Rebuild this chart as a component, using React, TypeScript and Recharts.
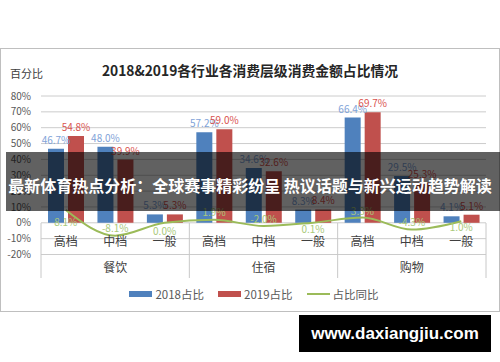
import React from "react";
import {
  ComposedChart,
  Bar,
  Line,
  XAxis,
  YAxis,
  CartesianGrid,
  LabelList,
} from "recharts";

const levels = ["高档", "中档", "一般", "高档", "中档", "一般", "高档", "中档", "一般"];
const groups = ["餐饮", "住宿", "购物"];
const share2018 = [46.7, 48.0, 5.3, 57.2, 34.6, 8.3, 66.4, 29.5, 4.1];
const share2019 = [54.8, 39.9, 5.3, 59.0, 32.6, 8.4, 69.7, 25.3, 5.1];
const yoy = [8.1, -8.1, 0.0, 1.9, -2.0, 0.1, 3.3, -4.3, 1.0];
const yTicks = [-20, -10, 0, 10, 20, 30, 40, 50, 60, 70, 80];
const seriesNames = ["2018占比", "2019占比", "占比同比"];

const chartData = levels.map((level, i) => ({
  level,
  group: groups[Math.floor(i / 3)],
  y2018: share2018[i],
  y2019: share2019[i],
  yoy: yoy[i],
}));

const BLUE = "#4f81bd";
const RED = "#c0504d";
const GREEN = "#9bbb59";
const AXIS_TEXT = "#595959";
const FONT = "'Noto Sans CJK SC', 'Noto Sans', sans-serif";

const PLOT_LEFT = 41;
const PLOT_RIGHT = 486;
const BAND = (PLOT_RIGHT - PLOT_LEFT) / levels.length;

// excel put the yoy labels above or below the point, one by one
const yoyLabelDy = [13, -7, 9, -7, -6, 7, -6, -7, 6];

const pct = (v: number) => `${v.toFixed(1)}%`;

function CategoryTick(props: any) {
  const { x, y, index } = props;
  const half = BAND / 2;
  return (
    <g>
      <text
        x={x}
        y={y - 12.5}
        dy="0.35em"
        textAnchor="middle"
        fill="#404040"
        fontSize={12}
      >
        {levels[index]}
      </text>
      {index % 3 === 1 && (
        <text
          x={x}
          y={y + 13.5}
          dy="0.35em"
          textAnchor="middle"
          fill="#404040"
          fontSize={12}
        >
          {groups[Math.floor(index / 3)]}
        </text>
      )}
      {index % 3 === 0 && (
        <line
          x1={x - half}
          x2={x - half}
          y1={y - 31.5}
          y2={y + 23.5}
          stroke="#c8c8c8"
        />
      )}
      {index === levels.length - 1 && (
        <line
          x1={x + half}
          x2={x + half}
          y1={y - 31.5}
          y2={y + 23.5}
          stroke="#c8c8c8"
        />
      )}
    </g>
  );
}

function YoyLabel(props: any) {
  const { x, y, value, index } = props;
  return (
    <text
      x={x}
      y={y + yoyLabelDy[index]}
      dy="0.35em"
      textAnchor="middle"
      fill="#a9c97a"
      fontSize={10}
    >
      {pct(value)}
    </text>
  );
}

function LegendRow() {
  const swatches = [
    <div style={{ width: 23, height: 6, background: BLUE }} />,
    <div style={{ width: 23, height: 6, background: RED }} />,
    <div style={{ width: 23, height: 2, background: GREEN }} />,
  ];
  return (
    <div
      style={{
        position: "absolute",
        left: 4,
        top: 286,
        width: 500,
        display: "flex",
        justifyContent: "center",
        gap: 14,
        fontSize: 11.5,
        color: AXIS_TEXT,
        lineHeight: "16px",
      }}
    >
      {seriesNames.map((name, i) => (
        <div key={name} style={{ display: "flex", alignItems: "center", gap: 3 }}>
          {swatches[i]}
          <span>{name}</span>
        </div>
      ))}
    </div>
  );
}

export default function App() {
  return (
    <div
      style={{
        position: "absolute",
        left: 0,
        top: 0,
        width: 500,
        height: 362,
        background: "#fff",
        fontFamily: FONT,
        overflow: "hidden",
      }}
    >
      <div
        style={{
          position: "absolute",
          left: 0,
          top: 61,
          width: 500,
          textAlign: "center",
          fontSize: 13.8,
          fontWeight: 700,
          lineHeight: "18px",
          color: "#262626",
        }}
      >
        2018&2019各行业各消费层级消费金额占比情况
      </div>
      <div
        style={{
          position: "absolute",
          left: 0,
          top: 48,
          width: 500,
          height: 264,
          border: "1px solid #bfbfbf",
          boxSizing: "border-box",
        }}
      />
      <div
        style={{
          position: "absolute",
          left: 10,
          top: 65,
          fontSize: 11,
          lineHeight: "16px",
          color: "#404040",
        }}
      >
        百分比
      </div>

      <div style={{ position: "absolute", left: 0, top: 0 }}>
        <ComposedChart
          width={500}
          height={362}
          data={chartData}
          margin={{ top: 96, right: 500 - PLOT_RIGHT, left: 0, bottom: 77.5 }}
          barSize={16}
          barGap={4}
        >
          <CartesianGrid vertical={false} stroke="#cccccc" />
          <XAxis
            dataKey="level"
            height={30}
            interval={0}
            axisLine={false}
            tickLine={false}
            tickSize={0}
            tickMargin={0}
            tick={<CategoryTick />}
          />
          <YAxis
            width={PLOT_LEFT}
            domain={[-20, 80]}
            ticks={yTicks}
            interval={0}
            tickFormatter={(v: number) => `${v}%`}
            axisLine={false}
            tickLine={false}
            tickSize={0}
            tickMargin={10}
            tick={{ fill: AXIS_TEXT, fontSize: 10 }}
          />
          <Bar dataKey="y2018" name={seriesNames[0]} fill={BLUE} isAnimationActive={false}>
            <LabelList
              dataKey="y2018"
              position="top"
              formatter={(v: any) => pct(Number(v))}
              fill="#7fa3d8"
              fontSize={10}
            />
          </Bar>
          <Bar dataKey="y2019" name={seriesNames[1]} fill={RED} isAnimationActive={false}>
            <LabelList
              dataKey="y2019"
              position="top"
              formatter={(v: any) => pct(Number(v))}
              fill="#d9534f"
              fontSize={10}
            />
          </Bar>
          <Line
            dataKey="yoy"
            name={seriesNames[2]}
            type="monotone"
            stroke={GREEN}
            strokeWidth={2}
            dot={false}
            activeDot={false}
            isAnimationActive={false}
          >
            <LabelList dataKey="yoy" content={<YoyLabel />} />
          </Line>
        </ComposedChart>
      </div>

      <LegendRow />

      <div
        style={{
          position: "absolute",
          left: 6,
          top: 152,
          width: 494,
          height: 59,
          background: "rgba(0,0,0,0.62)",
        }}
      />
      <div
        style={{
          position: "absolute",
          left: 6,
          top: 175,
          width: 488,
          textAlign: "center",
          fontSize: 16,
          fontWeight: 700,
          lineHeight: "20px",
          color: "#fff",
          whiteSpace: "nowrap",
        }}
      >
        最新体育热点分析：全球赛事精彩纷呈 热议话题与新兴运动趋势解读
      </div>

      <div
        style={{
          position: "absolute",
          left: 299,
          top: 315,
          width: 192,
          height: 37,
          background: "#000",
          color: "#fff",
          fontFamily: "'Liberation Sans', Arial, sans-serif",
          fontWeight: 700,
          fontSize: 17,
          lineHeight: "37px",
          textAlign: "center",
        }}
      >
        www.daxiangjiu.com
      </div>
    </div>
  );
}
